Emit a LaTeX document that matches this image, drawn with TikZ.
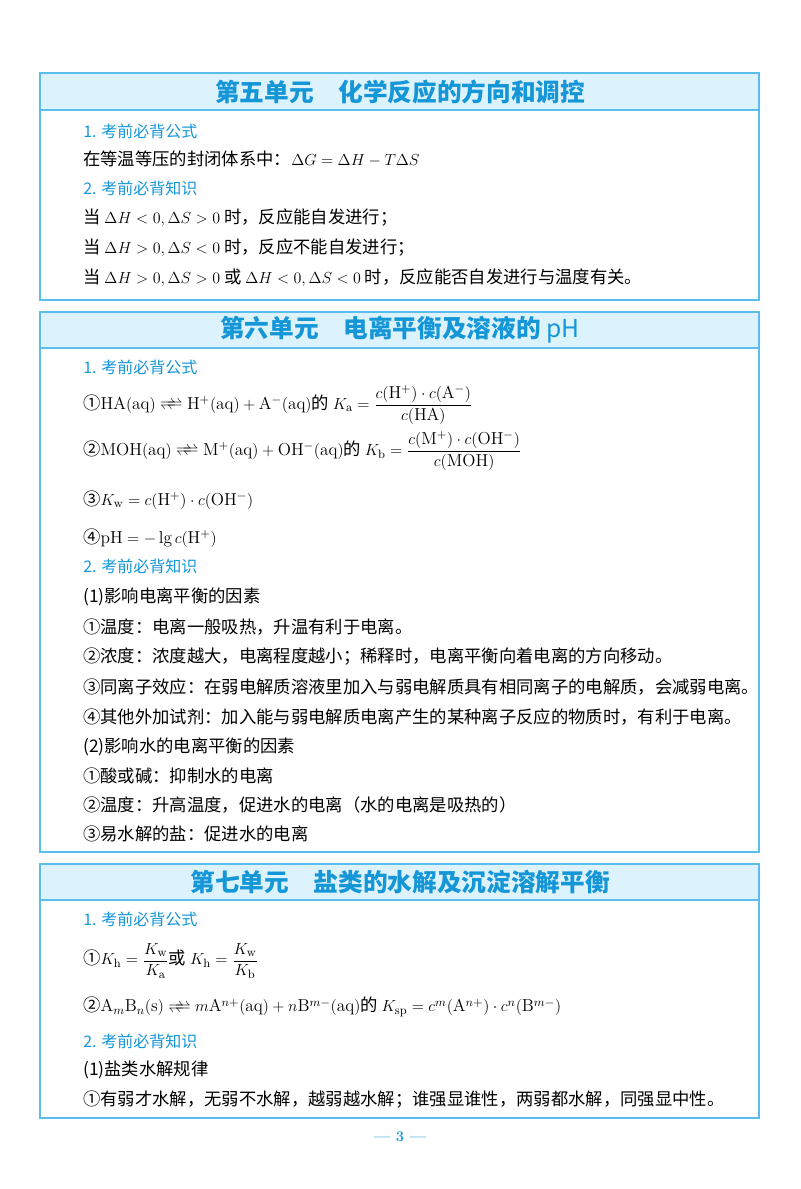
\documentclass[tikz,border=0pt]{standalone}
\usepackage{fontspec}
\newfontfamily\cjk{Noto Sans CJK SC}
\usetikzlibrary{positioning}
\definecolor{frameblue}{RGB}{90,190,235}
\definecolor{bandblue}{RGB}{220,242,252}
\definecolor{titleblue}{RGB}{20,150,215}
\tikzset{
  txt/.style={anchor=west,inner sep=0pt,font=\cjk\fontsize{13}{15}\selectfont},
  sub/.style={txt,text=titleblue,font=\cjk\fontsize{12}{14}\selectfont},
  ttl/.style={inner sep=0pt,text=titleblue,font=\cjk\bfseries\fontsize{18.5}{21}\selectfont},
  unitbox/.style={draw=frameblue,line width=0.9pt},
  band/.style={draw=frameblue,line width=0.9pt,fill=bandblue}
}
\newcommand{\chem}[1]{\mathrm{#1}}
\newcommand{\eqarrow}{\mathrel{\rightleftharpoons\mkern-10mu\rightleftharpoons}}
\begin{document}
\begin{tikzpicture}[x=0.75pt,y=-0.75pt]
  \useasboundingbox (0,0) rectangle (800,1189);
  % unit five
  \draw[unitbox] (40,73) rectangle (759,300);
  \draw[band] (40,73) rectangle (759,110);
  \node[ttl] (t5) at (400,92) {第五单元\quad 化学反应的方向和调控};
  \node[sub] (a1) at (83,131) {1. 考前必背公式};
  \node[txt] (a2) at (83,159) {在等温等压的封闭体系中：$\Delta G=\Delta H-T\Delta S$};
  \node[sub] (a3) at (83,188) {2. 考前必背知识};
  \node[txt] (a4) at (83,218) {当 $\Delta H<0,\Delta S>0$ 时，反应能自发进行；};
  \node[txt] (a5) at (83,248) {当 $\Delta H>0,\Delta S<0$ 时，反应不能自发进行；};
  \node[txt] (a6) at (83,278) {当 $\Delta H>0,\Delta S>0$ 或 $\Delta H<0,\Delta S<0$ 时，反应能否自发进行与温度有关。};
  % unit six
  \draw[unitbox] (40,312) rectangle (759,852);
  \draw[band] (40,312) rectangle (759,348);
  \node[ttl] (t6) at (400,330) {第六单元\quad 电离平衡及溶液的 {\mdseries pH}};
  \node[sub] (b1) at (83,367) {1. 考前必背公式};
  \node[txt] (b2) at (83,405) {①$\chem{HA(aq)}\eqarrow\chem{H^+(aq)+A^-(aq)}$的 $K_\chem{a}=\displaystyle\frac{c(\chem{H^+})\cdot c(\chem{A^-})}{c(\chem{HA})}$};
  \node[txt] (b3) at (83,451) {②$\chem{MOH(aq)}\eqarrow\chem{M^+(aq)+OH^-(aq)}$的 $K_\chem{b}=\displaystyle\frac{c(\chem{M^+})\cdot c(\chem{OH^-})}{c(\chem{MOH})}$};
  \node[txt] (b4) at (83,500) {③$K_\chem{w}=c(\chem{H^+})\cdot c(\chem{OH^-})$};
  \node[txt] (b5) at (83,538) {④$\chem{pH}=-\lg c(\chem{H^+})$};
  \node[sub] (b6) at (83,566) {2. 考前必背知识};
  \node[txt] (b7) at (83,597) {(1)影响电离平衡的因素};
  \node[txt] (b8) at (83,627) {①温度：电离一般吸热，升温有利于电离。};
  \node[txt] (b9) at (83,657) {②浓度：浓度越大，电离程度越小；稀释时，电离平衡向着电离的方向移动。};
  \node[txt] (b10) at (83,687) {③同离子效应：在弱电解质溶液里加入与弱电解质具有相同离子的电解质，会减弱电离。};
  \node[txt] (b11) at (83,717) {④其他外加试剂：加入能与弱电解质电离产生的某种离子反应的物质时，有利于电离。};
  \node[txt] (b12) at (83,747) {(2)影响水的电离平衡的因素};
  \node[txt] (b13) at (83,776) {①酸或碱：抑制水的电离};
  \node[txt] (b14) at (83,805) {②温度：升高温度，促进水的电离（水的电离是吸热的）};
  \node[txt] (b15) at (83,834) {③易水解的盐：促进水的电离};
  % unit seven
  \draw[unitbox] (40,864) rectangle (759,1118);
  \draw[band] (40,864) rectangle (759,900);
  \node[ttl] (t7) at (400,882) {第七单元\quad 盐类的水解及沉淀溶解平衡};
  \node[sub] (c1) at (83,919) {1. 考前必背公式};
  \node[txt] (c2) at (83,961) {①$K_\chem{h}=\displaystyle\frac{K_\chem{w}}{K_\chem{a}}$或 $K_\chem{h}=\displaystyle\frac{K_\chem{w}}{K_\chem{b}}$};
  \node[txt] (c3) at (83,1007) {②$\chem{A}_m\chem{B}_n\chem{(s)}\eqarrow m\chem{A}^{n+}\chem{(aq)}+n\chem{B}^{m-}\chem{(aq)}$的 $K_\chem{sp}=c^m(\chem{A}^{n+})\cdot c^n(\chem{B}^{m-})$};
  \node[sub] (c4) at (83,1041) {2. 考前必背知识};
  \node[txt] (c5) at (83,1070) {(1)盐类水解规律};
  \node[txt] (c6) at (83,1100) {①有弱才水解，无弱不水解，越弱越水解；谁强显谁性，两弱都水解，同强显中性。};
  % page number
  \node[ttl,font=\bfseries\fontsize{11}{13}\selectfont] (pg) at (400,1137) {--- 3 ---};
\end{tikzpicture}
\end{document}
